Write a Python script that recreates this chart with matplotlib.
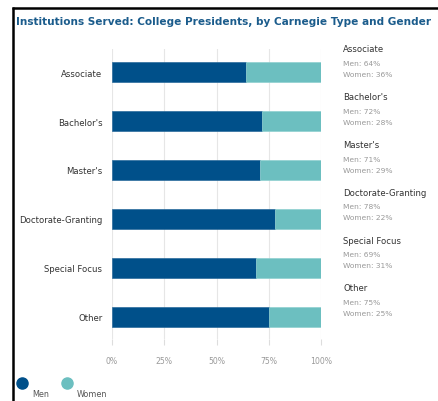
import matplotlib
matplotlib.use("Agg")
import matplotlib.pyplot as plt
from matplotlib.lines import Line2D
import numpy as np

categories = ["Associate", "Bachelor's", "Master's", "Doctorate-Granting", "Special Focus", "Other"]
men = [64, 72, 71, 78, 69, 75]
women = [36, 28, 29, 22, 31, 25]
xticks = [0, 25, 50, 75, 100]
xticklabels = ["0%", "25%", "50%", "75%", "100%"]
title = "Institutions Served: College Presidents, by Carnegie Type and Gender"

MEN_C = "#00508a"
WOMEN_C = "#6cbfc0"
W, H = 438, 402

fig = plt.figure(figsize=(W / 100, H / 100), dpi=100)
fig.patch.set_facecolor("white")

def fx(px):
    return px / W

def fy(py):
    return 1 - py / H

# frame lines (left and top)
fig.add_artist(Line2D([fx(12.5), fx(12.5)], [fy(8), fy(H + 2)], color="black", lw=1.8,
                      solid_capstyle="butt", transform=fig.transFigure))
fig.add_artist(Line2D([fx(11.6), fx(W + 2)], [fy(8.5), fy(8.5)], color="black", lw=1.8,
                      solid_capstyle="butt", transform=fig.transFigure))

fig.text(fx(16), fy(22), title, color="#1b5c8c", fontsize=7.6, fontweight="bold", va="center", ha="left")

ax_left, ax_right, ax_top, ax_bot = 112, 321, 50, 340
ax = fig.add_axes([fx(ax_left), fy(ax_bot), (ax_right - ax_left) / W, (ax_bot - ax_top) / H])
y = np.arange(len(categories))
ax.barh(y, men, height=0.41, color=MEN_C, edgecolor="#2b6c9c", linewidth=0.5, zorder=3)
ax.barh(y, women, left=men, height=0.41, color=WOMEN_C, edgecolor="#8fd0d0", linewidth=0.5, zorder=3)
ax.set_xlim(0, 100)
ax.set_ylim(5.45, -0.47)
ax.set_yticks(y)
ax.set_yticklabels(categories, fontsize=6.1, color="#333333")
ax.tick_params(axis="y", length=0, pad=7)
ax.set_xticks(xticks)
ax.set_xticklabels(xticklabels, fontsize=5.6, color="#999999")
ax.tick_params(axis="x", length=4, color="#dddddd", pad=8)
ax.grid(axis="x", color="#e6e6e6", lw=0.8, zorder=0)
for s in ax.spines.values():
    s.set_visible(False)

# right side annotations
for i, cat in enumerate(categories):
    base = 50 + i * 47.8
    fig.text(fx(343), fy(base), cat, fontsize=6.1, color="#333333", va="center", ha="left")
    fig.text(fx(343), fy(base + 14), f"Men: {men[i]}%", fontsize=5.4, color="#999999", va="center", ha="left")
    fig.text(fx(343), fy(base + 25), f"Women: {women[i]}%", fontsize=5.4, color="#999999", va="center", ha="left")

# legend
for xc, lab, col in [(22, "Men", MEN_C), (67, "Women", WOMEN_C)]:
    fig.add_artist(Line2D([fx(xc)], [fy(384)], marker="o", markersize=8, color=col, lw=0, transform=fig.transFigure))
    fig.text(fx(xc + 10), fy(395), lab, fontsize=5.8, color="#555555", va="center", ha="left")

fig.savefig("out.png", dpi=100)
